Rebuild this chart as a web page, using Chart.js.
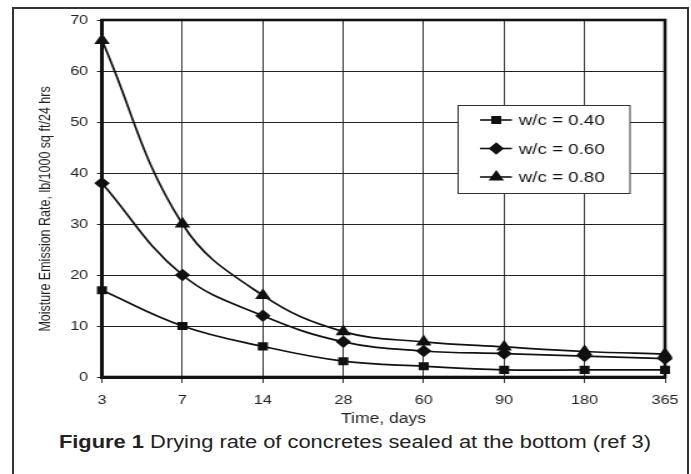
<!DOCTYPE html>
<html>
<head>
<meta charset="utf-8">
<script src="https://cdn.jsdelivr.net/npm/chart.js@4"></script>
<style>
  body { margin: 0; background: #fff; width: 691px; height: 474px; overflow: hidden; position: relative; font-family: "Liberation Sans", Arial, sans-serif; }
  #frame { position: absolute; left: 12px; top: 7px; width: 673px; height: 480px; border: 2px solid #333; }
  /* the original scan is stretched sideways, so the chart is drawn narrow and widened */
  .wide { position: absolute; left: 0; transform: scaleX(1.25); transform-origin: 0 0; }
  #wrap { top: 0; width: 553px; height: 430px; }
  #caption { top: 432px; width: 568px; text-align: center; font-size: 17.5px; color: #222; }
</style>
</head>
<body>
<div id="frame"></div>
<div id="wrap" class="wide"><canvas id="dryChart"></canvas></div>
<div id="caption" class="wide"><b>Figure 1</b> Drying rate of concretes sealed at the bottom (ref 3)</div>
<script>
// Data
const days = ["3", "7", "14", "28", "60", "90", "180", "365"];
const wc040 = [17, 10, 6, 3.1, 2.1, 1.4, 1.4, 1.4];
const wc060 = [38, 20, 12, 6.9, 5.1, 4.6, 4.1, 3.6];
const wc080 = [66, 30, 16, 8.9, 6.9, 5.9, 5.0, 4.5];
const yTicks = [0, 10, 20, 30, 40, 50, 60, 70];

const ink = "#111";
const font = "'Liberation Sans', Arial, sans-serif";

// thick box round the plot, under the markers
const plotFrame = {
    id: "plotFrame",
    beforeDatasetsDraw(chart) {
        const a = chart.chartArea, c = chart.ctx;
        c.save();
        c.strokeStyle = ink;
        c.lineWidth = 2.6;
        c.strokeRect(a.left, a.top, a.right - a.left, a.bottom - a.top);
        c.restore();
    }
};

// boxed legend inside the plot
const boxLegend = {
    id: "boxLegend",
    afterDraw(chart) {
        const c = chart.ctx;
        const x0 = 366.5, y0 = 105, w = 137.5, h = 88;
        c.save();
        c.fillStyle = "#fff";
        c.fillRect(x0, y0, w, h);
        c.strokeStyle = "#333";
        c.lineWidth = 1;
        c.strokeRect(x0, y0 + 0.5, w, h);
        c.font = "15px " + font;
        c.textBaseline = "middle";
        chart.data.datasets.forEach((ds, i) => {
            const y = 120 + i * 28.5;
            c.strokeStyle = ink;
            c.lineWidth = 1.6;
            c.beginPath();
            c.moveTo(384, y);
            c.lineTo(409.5, y);
            c.stroke();
            c.fillStyle = ink;
            Chart.helpers.drawPoint(c, {pointStyle: ds.pointStyle, radius: ds.pointRadius, borderWidth: 1}, 397, y);
            c.fillText(ds.label, 415, y + 1);
        });
        c.restore();
    }
};

new Chart(document.getElementById("dryChart"), {
    type: "line",
    data: {
        labels: days,
        datasets: [
            { label: "w/c = 0.40", data: wc040, pointStyle: "rect", pointRadius: 4.5 },
            { label: "w/c = 0.60", data: wc060, pointStyle: "rectRot", pointRadius: 5 },
            { label: "w/c = 0.80", data: wc080, pointStyle: "triangle", pointRadius: 5.5 }
        ].map(d => Object.assign(d, {
            borderColor: ink,
            backgroundColor: ink,
            pointBackgroundColor: ink,
            pointBorderColor: ink,
            borderWidth: 1.7,
            tension: 0.4,
            fill: false
        }))
    },
    options: {
        responsive: true,
        maintainAspectRatio: false,
        animation: false,
        layout: { padding: { left: 0, top: 20, right: 21, bottom: 0 } },
        plugins: { legend: { display: false }, tooltip: { enabled: false } },
        scales: {
            x: {
                offset: false,
                grid: { color: "#222", lineWidth: 0.9, tickLength: 6 },
                border: { color: ink, width: 3 },
                ticks: { color: "#222", padding: 10, maxRotation: 0, font: { family: font, size: 13 } },
                title: { display: true, text: "Time, days", color: "#222", padding: { top: 0, bottom: 2 }, font: { family: font, size: 14 } },
                afterFit(s) { s.height = 53; }
            },
            y: {
                min: 0,
                max: 70,
                afterBuildTicks(s) { s.ticks = yTicks.map(v => ({ value: v })); },
                grid: { color: "#222", lineWidth: 1, tickLength: 4 },
                border: { color: ink, width: 3 },
                ticks: { color: "#222", padding: 7, font: { family: font, size: 13 } },
                // trailing no-break spaces push the text a little lower, as in the original
                title: { display: true, text: "Moisture Emission Rate, lb/1000 sq ft/24 hrs\u00A0\u00A0\u00A0\u00A0\u00A0\u00A0", color: "#222", padding: { top: 29, bottom: 0 }, font: { family: font, size: 12.5 } },
                afterFit(s) { s.width = 81.6; }
            }
        }
    },
    plugins: [plotFrame, boxLegend]
});
</script>
</body>
</html>
